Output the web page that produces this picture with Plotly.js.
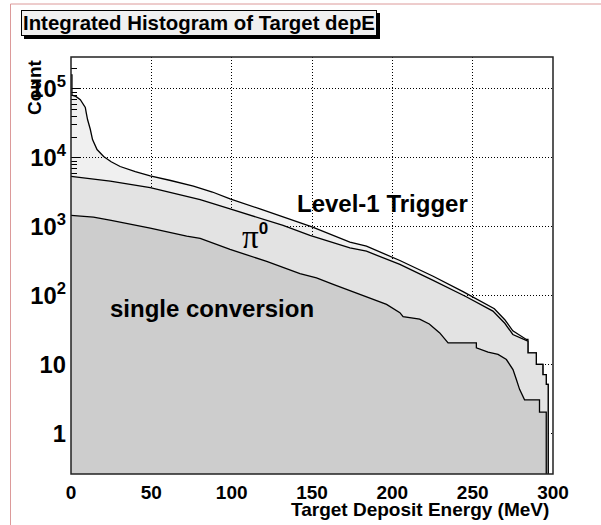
<!DOCTYPE html>
<html><head><meta charset="utf-8">
<script src="https://cdn.plot.ly/plotly-3.0.1.min.js"></script>
<style>html,body{margin:0;padding:0;background:#fff;}#chart{width:601px;height:525px;}</style>
</head><body><div id="chart"></div>
<script>
// ---- data ----
const energyTicks = [0, 50, 100, 150, 200, 250, 300];

const level1X = [0, 0.6, 0.6, 3, 5.8, 7.5, 8.9, 9.5, 10.3, 12, 13.4, 16.2, 20.3, 25, 30.6, 40, 49.3, 62, 76.2, 88, 99, 117.6, 132, 150, 173.6, 183.9, 204.7, 225.4, 244, 263.5, 270, 275, 283.4, 284.4, 284.4, 289.6, 289.6, 293.7, 293.7, 295.8, 295.8, 297, 297];
const level1Y = [1.6e5, 1.6e5, 8.1e4, 7.8e4, 7.0e4, 6.2e4, 5.4e4, 4.5e4, 3.6e4, 2.6e4, 1.84e4, 1.32e4, 1.05e4, 8.8e3, 7.5e3, 6.3e3, 5.5e3, 4.7e3, 3.9e3, 3.2e3, 2.55e3, 1.82e3, 1.38e3, 1.0e3, 600, 524, 325, 192, 115, 65, 45, 31, 23.3, 23.3, 14.9, 14.9, 10.1, 10.1, 7.2, 7.2, 5.2, 5.2, 0.001];

const pi0X = [0, 10, 24.4, 49.3, 80.4, 99, 117.6, 132, 148.7, 173.6, 183.9, 204.7, 225.4, 246, 262.6, 270, 275, 283.4, 284.4, 284.4, 289.6, 289.6, 293.7, 293.7, 295.8, 295.8, 297, 297];
const pi0Y = [5.4e3, 5.1e3, 4.6e3, 3.7e3, 2.49e3, 1.82e3, 1.33e3, 1.05e3, 750, 497, 443, 285, 167, 97, 60, 40, 27.5, 22, 22, 14.9, 14.9, 10.1, 10.1, 7.2, 7.2, 5.2, 5.2, 0.001];

const singleX = [0, 14, 25, 49.3, 72, 80.4, 99, 121.8, 142.5, 152.8, 163.2, 179.8, 196.4, 204.7, 206.7, 217, 223, 229.5, 234.7, 252.3, 252.3, 259.6, 265.8, 271, 275.1, 277.2, 279.2, 282.3, 291.6, 291.6, 295.8, 295.8];
const singleY = [1.47e3, 1.38e3, 1.24e3, 960, 731, 680, 470, 316, 209, 182, 146, 105, 75, 57, 50, 46, 39, 29, 20.8, 20.8, 17.6, 15.2, 14.1, 11.9, 8.5, 6.1, 4.4, 3.1, 3.1, 2.06, 2.06, 0.001];

// ---- layout helpers ----
const W = 601, H = 525, M = {l: 71, r: 48, t: 57, b: 51};
const pw = W - M.l - M.r, ph = H - M.t - M.b;
const xp = px => (px - M.l) / pw;
const yp = py => (H - M.b - py) / ph;
const FONT = 'Liberation Sans, Arial, Helvetica, sans-serif';

const lineStyle = {color: '#000', width: 1.3, shape: 'linear'};
const traces = [
  {x: level1X, y: level1Y, type: 'scatter', mode: 'lines', line: lineStyle,
   fill: 'tozeroy', fillcolor: 'rgba(0,0,0,0.06)', hoverinfo: 'skip', name: 'Level-1 Trigger'},
  {x: pi0X, y: pi0Y, type: 'scatter', mode: 'lines', line: lineStyle,
   fill: 'tozeroy', fillcolor: '#e3e3e3', hoverinfo: 'skip', name: 'pi0'},
  {x: singleX, y: singleY, type: 'scatter', mode: 'lines', line: lineStyle,
   fill: 'tozeroy', fillcolor: '#cdcdcd', hoverinfo: 'skip', name: 'single conversion'}
];

const titleText = 'Integrated Histogram of Target depE';
const titleFont = {family: FONT, size: 20.4, weight: 'bold', color: '#000'};

const layout = {
  width: W, height: H,
  margin: M,
  paper_bgcolor: '#fff', plot_bgcolor: '#fff',
  showlegend: false,
  font: {family: FONT, size: 19, color: '#000', weight: 'bold'},
  xaxis: {
    range: [0, 300], tickmode: 'array', tickvals: energyTicks,
    ticks: '', showline: false, zeroline: false,
    showgrid: true, gridcolor: '#000', gridwidth: 1, griddash: '1px,2px',
    tickfont: {family: FONT, size: 19, weight: 'bold'},
    ticklabelstandoff: 5,
    layer: 'below traces'
  },
  yaxis: {
    type: 'log', range: [-0.584, 5.463], dtick: 1, exponentformat: 'power',
    ticks: 'inside', ticklen: 9, tickwidth: 1, tickcolor: '#000',
    minor: {ticks: 'inside', ticklen: 6, tickcolor: '#000', dtick: 'D1', showgrid: false},
    showline: false, zeroline: false,
    showgrid: true, gridcolor: '#000', gridwidth: 1, griddash: '1px,2px',
    tickfont: {family: FONT, size: 19, weight: 'bold'},
    ticklabelstandoff: 4,
    layer: 'below traces'
  },
  shapes: [
    // plot frame
    {type: 'rect', xref: 'paper', yref: 'paper', x0: 0, x1: 1, y0: 0, y1: 1,
     line: {color: '#222', width: 1.5}, fillcolor: 'rgba(0,0,0,0)', layer: 'above'},
    // pink canvas border (left, top)
    {type: 'line', xref: 'paper', yref: 'paper', x0: xp(10.5), x1: xp(10.5), y0: yp(4), y1: yp(530),
     line: {color: '#dc9a9a', width: 1}},
    {type: 'line', xref: 'paper', yref: 'paper', x0: xp(10.5), x1: xp(610), y0: yp(4), y1: yp(4),
     line: {color: '#dc9a9a', width: 1}}
  ],
  annotations: [
    // title shadow
    {text: titleText, xref: 'paper', yref: 'paper', x: xp(20.5), y: yp(10), xanchor: 'left', yanchor: 'top',
     xshift: 3, yshift: -3, showarrow: false, font: titleFont, bgcolor: '#000', bordercolor: '#000', borderwidth: 1, borderpad: 1},
    // title box
    {text: titleText, xref: 'paper', yref: 'paper', x: xp(20.5), y: yp(10), xanchor: 'left', yanchor: 'top',
     showarrow: false, font: titleFont, bgcolor: '#f0f0f0', bordercolor: '#000', borderwidth: 1, borderpad: 1},
    // y axis title
    {text: 'Count', xref: 'paper', yref: 'paper', x: xp(34), y: yp(87), xanchor: 'center', yanchor: 'middle',
     textangle: -90, showarrow: false, font: {family: FONT, size: 19, weight: 'bold'}},
    // x axis title
    {text: 'Target Deposit Energy (MeV)', xref: 'paper', yref: 'paper', x: xp(551), y: yp(510), xanchor: 'right', yanchor: 'middle',
     showarrow: false, font: {family: FONT, size: 19, weight: 'bold'}},
    // labels in plot
    {text: 'Level-1 Trigger', xref: 'paper', yref: 'paper', x: xp(382), y: yp(203.5), xanchor: 'center', yanchor: 'middle',
     showarrow: false, font: {family: FONT, size: 24, weight: 'bold'}},
    {text: 'single conversion', xref: 'paper', yref: 'paper', x: xp(211.7), y: yp(308), xanchor: 'center', yanchor: 'middle',
     showarrow: false, font: {family: FONT, size: 24, weight: 'bold'}},
    {text: 'π<sup><span style="font-family:Liberation Sans;font-weight:bold;font-size:17px;">0</span></sup>', xref: 'paper', yref: 'paper',
     x: xp(240), y: yp(237), xanchor: 'left', yanchor: 'middle',
     showarrow: false, font: {family: 'Liberation Serif, Times New Roman, serif', size: 33, weight: 'normal'}}
  ]
};

Plotly.newPlot('chart', traces, layout, {staticPlot: true, displayModeBar: false});
</script>
</body></html>
